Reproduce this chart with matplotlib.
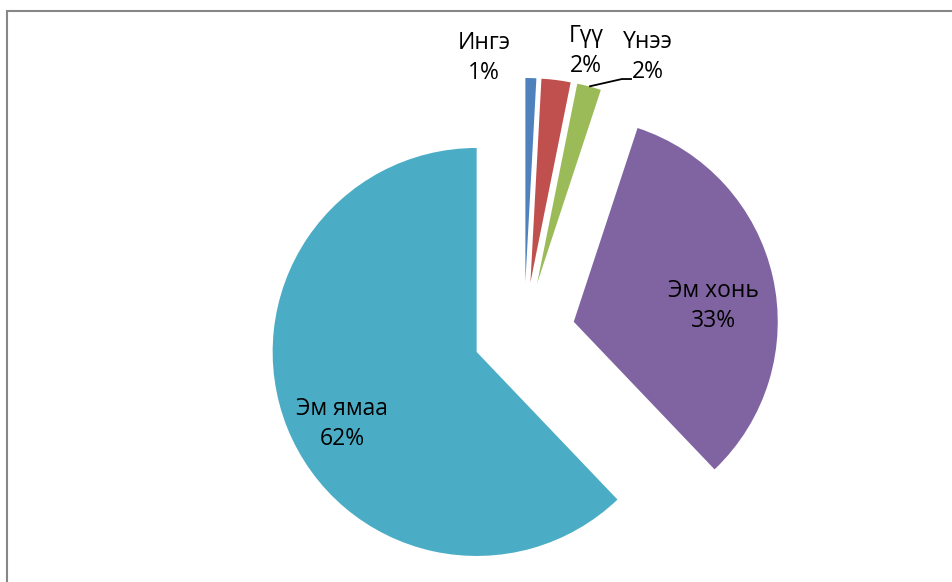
import matplotlib
matplotlib.use("Agg")
import matplotlib.pyplot as plt
from matplotlib.patches import Rectangle
import numpy as np

plt.rcParams['font.family'] = ['Open Sans', 'DejaVu Sans']

names = ['Ингэ', 'Гүү', 'Үнээ', 'Эм хонь', 'Эм ямаа']
values = [0.86, 2.3, 1.9, 32.8, 62.1]
pct_labels = ['1%', '2%', '2%', '33%', '62%']
colors = ['#4F81BD', '#C0504D', '#9BBB59', '#8064A2', '#4BACC6']

W, H = 953, 582
R = 204.0          # радиус круга в пикселях
CX, CY = 524, 333  # центр круга (пиксели, y вниз)

fig = plt.figure(figsize=(W / 100, H / 100), dpi=100)
ax = fig.add_axes([0, 0, 1, 1])

wedges, _ = ax.pie(values, startangle=90, counterclock=False,
                   explode=[0.25] * len(values), colors=colors,
                   radius=1, center=(0, 0), wedgeprops=dict(linewidth=0))
ax.set_xlim(-CX / R, (W - CX) / R)
ax.set_ylim((CY - H) / R, CY / R)
ax.axis('off')

# позиции подписей (в радиусах)
label_pos = [(-0.196, 1.348), (0.304, 1.382), (0.608, 1.353),
             (0.931, 0.132), (-0.892, -0.446)]
for name, pct, (x, y) in zip(names, pct_labels, label_pos):
    ax.text(x, y, name + '\n' + pct, ha='center', va='center',
            fontsize=16.5, linespacing=1.3, color='black')

# выноска для Үнээ
w = wedges[2]
tm = np.radians((w.theta1 + w.theta2) / 2)
sx = w.center[0] + np.cos(tm)
sy = w.center[1] + np.sin(tm)
ax.plot([sx, 0.48, 0.529], [sy, 1.245, 1.245], color='black', lw=1.3,
        solid_capstyle='butt')

# рамка области диаграммы
fig.add_artist(Rectangle((7 / W, -0.1), 1.2, (H - 11) / H + 0.1,
                         transform=fig.transFigure, fill=False,
                         edgecolor='#878787', lw=1.5))

fig.savefig('out.png', dpi=100)
